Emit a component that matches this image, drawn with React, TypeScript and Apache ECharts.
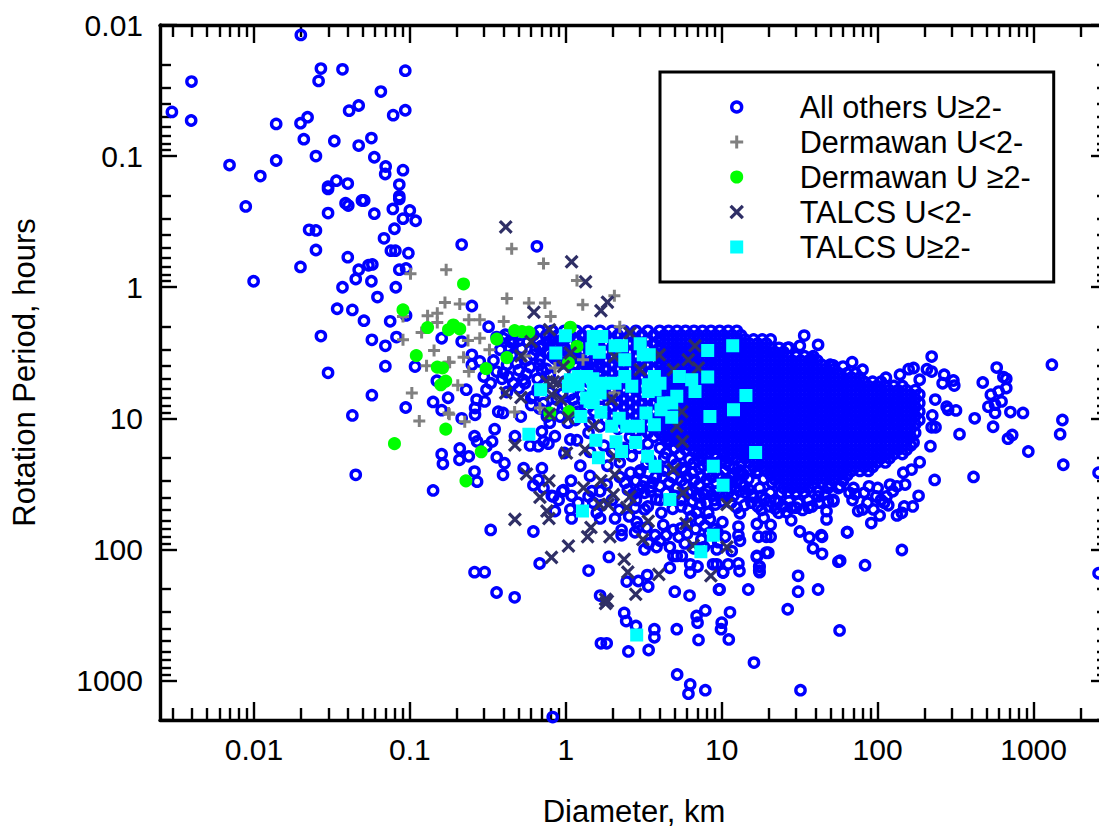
import React, { useEffect, useRef } from "react";
import * as echarts from "echarts";

const xMajor = [0.01, 0.1, 1, 10, 100, 1000];
const xMinor = [0.003,0.004,0.005,0.006,0.007,0.008,0.009,0.02,0.03,0.04,0.05,0.06,0.07,0.08,0.09,0.2,0.3,0.4,0.5,0.6,0.7,0.8,0.9,2,3,4,5,6,7,8,9,20,30,40,50,60,70,80,90,200,300,400,500,600,700,800,900,2000,3000];
const yMajor = [0.01, 0.1, 1, 10, 100, 1000];
const yMinor = [0.02,0.03,0.04,0.05,0.06,0.07,0.08,0.09,0.2,0.3,0.4,0.5,0.6,0.7,0.8,0.9,2,3,4,5,6,7,8,9,20,30,40,50,60,70,80,90,200,300,400,500,600,700,800,900,2000];

const legendNames = ["All others U≥2-", "Dermawan U<2-", "Dermawan U ≥2-", "TALCS U<2-", "TALCS U≥2-"];

// scattered "All others" points, [diameter km, period h]
const othersScattered: number[][] = [
[.02,.0119],[.0269,.0215],[.037,.0218],[.0935,.0223],[.00398,.027],[.026,.0267],[.0652,.0322],[.047,.0411],[.0408,.045],[.0935,.0447],[.0782,.0487],[.00298,.046],[.0221,.0505],[.0199,.0561],[.0139,.0568],[.00396,.0535],[.0328,.0767],[.0567,.0729],[.047,.0831],[.0209,.0743],[.025,.1],[.0592,.102],[.07,.12],[.0695,.137],[.0904,.128],[.00698,.117],[.0139,.108],[.011,.142],[.00887,.242],[.0338,.154],[.04,.162],[.0299,.171],[.0299,.178],[.0856,.165],[.0856,.202],[.0856,.212],[.0387,.229],[.0403,.238],[.0493,.218],[.051,.218],[.0299,.272],[.0592,.275],[.0778,.253],[.1,.26],[.0904,.3],[.109,.311],[.0797,.358],[.0683,.424],[.0226,.365],[.025,.369],[.025,.52],[.04,.59],[.0756,.526],[.0808,.526],[.0979,.55],[.0199,.7],[.047,.735],[.0543,.68],[.0575,.67],[.0856,.735],[.0946,.72],[.00996,.9],[.045,.866],[.0567,.9],[.037,1],[.0813,1],[.062,1.19],
[.0342,1.46],[.0428,1.49],[.0508,1.8],[.0748,1.82],[.0946,1.64],[.0269,2.36],[.0571,2.52],[.0821,2.4],[.0697,2.8],[.0697,4],[.108,4.03],[.0299,4.5],[.0571,6.66],[.0428,9.5],[.0941,8.27],[.141,7.5],[.16,8.66],[.16,2.45],[.149,5.17],[.176,6.97],[.16,18.8],[.163,22.2],[.045,27],[.141,35.5],
[.215,.473],[.653,.488],[.25,1.39],[.32,2],[.215,2.6],[.25,3.28],[.344,3.62],[.461,2.67],[.398,2.45],[.502,2.31],[.62,2.31],[.438,2.92],[.62,3.28],[.482,3.8],[.59,4.07],[.703,4.26],[.428,4.8],[.461,5.4],[.547,5.4],[.62,6.8],[.281,3.68],[.25,3.9],[.298,4.8],[.33,5.4],[.31,6.05],[.23,6.05],[.268,7.2],[.302,7.43],[.262,8.35],[.262,9.4],[.215,10],[.369,8.9],[.396,9.1],[.515,9.7],[.35,12.1],[.26,13.7],[.27,15],[.337,15],[.31,16.3],[.472,13.7],[.703,12.6],[.72,15],[.852,13.7],[.774,15.6],[.59,16.1],[.667,16.3],[1.07,14.5],[1.18,14.7],[.98,18.4],[1.4,12.9],[.209,17],[.208,20.7],[.239,19.5],[.361,19.8],[.405,22],[.396,27],[.26,25.5],[.27,30.4],[.537,24],[.703,24],[.667,29.5],[.62,32.4],[.72,34],[1.08,29.9],[.813,39],[.966,35.3],[1.09,39],[1.4,39.4],[1.47,36],[1.07,49.5],[.852,51],
[.83,39.4],[.95,36],[.9,42],[1.09,58],[1.66,58],[1.58,52.6],[2.07,58],[2.55,56],[2.85,62],[2.28,71],[2.28,78],[2.78,74],[4.22,65],[3.74,78],[4.02,86],[3.82,96],[4.9,71],[5.47,69],[4.65,96],[4.9,112],[5.55,112],[6.28,130],[7,135],[4.65,138],[6.28,150],[8.8,130],[10.2,150],[12.8,128],[13,146],[17.4,135],[17.4,145],[16.8,114],[19.9,106],[1.89,114],[1.4,145],[2.46,176],[2.92,174],[3.33,157],[3.38,192],[1.66,225],[5,210],[6.22,225],[9.6,202],[14.8,202],[30.9,159],[30.9,210],[41.5,202],[26.5,286],[7.85,292],[6.9,322],[7,362],[11.3,302],[10,362],[9.9,406],[11.1,486],[7.1,490],[5.15,406],[3.7,406],[3.7,468],[2.37,305],[2.44,352],[2.82,384],[1.68,520],[1.83,520],[2.52,600],[3.4,585],[.33,71],[.62,73],[.68,128],[.26,149],[.302,149],[.36,213],[.47,232],[16.1,730],[32,1185],[5.18,900],[6.28,1070],[6.12,1260],[7.85,1185],[.825,1900],[57,415],[56,124],
[5.15,112],[6,64],[6.9,52.6],[6.12,49.5],[8.2,52.6],[9.1,45.5],[10.1,62],[8.4,59],[7.4,84],[10.5,80],[9.3,100],[11.6,103],[12.8,67],[12.8,78],[13.1,86],[13.1,53],[16.8,64],[18.6,57.5],[20.6,65],[17.2,80],[19.3,80],[20.6,80],[23.2,52.6],[27.9,60],[31.7,73],[36.5,81],[43.5,78],[38.5,98],[44,108],[57.5,122],[63.6,74],[47,51],[47,59],[52,42],[36,48],[41.5,39.4],[28,48],[23,43.7],[15.6,38.2],[57.5,33],[19.3,106],[16.8,112],[17.5,135],[17.5,149],[10.2,149],[11,130],[9.3,130],[9.7,202],[2.78,48],[3.2,49.5],[3.8,41.5],[4.1,52.6],
[33.8,2.34],[31.7,2.8],[27,2.89],[41.5,2.75],[37.5,3.52],[68.6,3.73],[80,4.26],[52,3.95],[60,4.03],[222,3.38],[113,4.9],[139,4.65],[158,4.22],[170,4.13],[207,4.22],[222,4.4],[267,4.65],[306,5.15],[310,5.63],[186,5.08],[472,5.33],[580,4.1],[640,4.85],[668,5],[668,5.87],[597,6.25],[532,6.6],[623,7.43],[566,7.87],[513,8.15],[566,9.1],[710,8.96],[855,9.1],[1310,3.9],[1530,10.3],[1480,13.2],[1550,22.6],[925,17.9],[730,13.4],[685,14.3],[550,11.6],[419,10],[335,13.2],[283,8.6],[318,8.7],[277,8.15],[261,5.4],[234,7.2],[224,9.5],[222,11.7],[235,11.7],[218,16.3],[170,15.3],[186,21.6],[232,29.5],[165,24.6],[146,26],[412,28],[183,39],[168,47],[148,47],[143,52.6],[133,55],[117,46],[103,55],[91,63],[94,49.5],[80,49.5],[75,51],[133,33],[114,39.4],[98,39.4],[82,37],[69,42],[52,43],[56,34],[64,74],[143,101],[83,132],[44,80],[2610,26],[2610,152],
[2.95,26],[3.36,26],[3.78,28],[2.82,30],[3.2,30],[3.6,31],[4.02,33],[2.95,35],[3.5,36],[4.28,25],[4.85,28],[5.15,34],[5.8,32],[6.4,36],[7.2,32],[8.1,36],[9.2,31],[7.2,40],[5.8,25],[6.5,26],[7.2,24],[8.2,26],[9.2,23],[10.4,25],[11.7,28],[13.2,25],[14.8,29],[16.6,26],[18.6,29],[21,31],[17.5,34],[15,35],[12.2,34],[10.5,32],[20.5,37],[24,37],[27,43],[31,44],[20.5,43],[36,42],[46,38],
[1.76,16.2],[1.98,18],[2.36,16.8],[2.65,19.4],[2.95,16.8],[3.36,15.6],[4.02,16.8],[4.5,14.5],[2.22,21.7],[1.85,23],[3.5,20.8],[4.28,20],[1.43,18],[1.24,23],[1.43,27.5],[1.83,32],[2.22,28],[2.5,35],[1.98,42],[1.66,36],[2.82,42],[4.02,42],[3.36,47],[4.85,49],[5.47,42],
[1.03,10.8],[.79,10.8],[.875,7.2],[.398,4.5],[.533,5.1],[.6,7],[.72,7.65],[.757,9.7],[.92,9.7],[1.15,10.3],[1.43,10.8],[1.66,11.5],[1.12,7.2],[1.12,4.5],[.79,4.65],
[.36,2.4],[.41,2.3],[.44,2.6],[.5,2.55],[.55,2.25],[.57,2.6],[.52,2.95],[.66,2.5],[.7,2.8],[.64,3],[.76,2.6],[.83,2.75],[.88,2.9],[.93,2.55],[1.02,3.1],[1.12,3.3],[.78,3.2],[.85,3.5],[.95,3.8],[1.22,3.5],[1.33,3.9],[1.45,3.7],[1.6,4.1],[.68,3.55],[.56,3.6],[.45,3.3],[.38,3],[.42,3.9],[.5,4.3],[.36,4.4],[.39,5],[.5,5.9],[.42,6.3],[.56,4.6],[.66,5],[.72,5.6],[.66,6],[.79,6.3],[.6,7.9],[.68,8.4],[.84,8.2],[.95,6.5],[1,8],[1.2,8.9],[1.1,9],
[4.6,15],[5,17],[4.4,18.5],[4.8,20.5],[5.4,19],[5.1,22.5],[5.6,24],[6.2,20.5],[6.6,22],[7.1,21],[7.6,23],[8.1,21.5],[8.6,23.5],[9.2,20],[9.9,21],[10.6,22],[11.2,23],[12,24],[12.8,26],[13.8,27],[6,28],[6.7,29.5],[7.4,28],[8,29.5],[8.7,28],[9.5,27],[10,28.5],[10.9,29.5],[11.5,31],[12.4,30],[13.4,31],[14,33],[5.5,30],[4.6,31],[4.2,28],[3.9,24],[3.3,22],[3,25],[2.6,26],[2.4,31],[3.1,33],[3.5,33.5],[3.2,37],[2.7,38],[4.4,37],[5,39],[6.1,37],[6.9,39],[7.7,38],[8.6,38.5],[9.4,36],[10.1,38],[11,37],[11.9,39],[13,36],[14.2,37],[16,40],[18,39],[19,41],[22,42],
[6.5,43],[7.3,45],[8,44],[9,42],[10,43],[11.5,44],[12.5,48],[14,46],[15.5,44],[17,47],[18,50],[20,47],[22,49],[25,47],[26,52],[30,48],[33,50],[38,47],[42,44],[48,43],[5.5,47],[6.4,56],[7.2,60],[7.8,66],[9.1,70],[9.4,74],[8.3,75],[6.8,70],[6,76],[5.3,80],[5.8,90],[6.6,98],[7.7,96],[8.5,88],[9.5,88],[4.4,78],[3.4,90],[3.2,100],[2.9,68],[3.3,68],[2.2,50],[1.7,46],[1.5,44],[1.2,44],
[60,30],[70,34],[88,33],[100,34],[120,32],[110,44],[125,36],[150,32],[72,38],[86,44],[105,42],[66,37],[48,34],[42,36],
];

// saturated part of "All others": each row is a diameter and the periods read at it
const othersColumns: [number, number[]][] = [
[.68,[2.15,2.9,3.9]],[.75,[2.32,3.12,4.2]],[.82,[2.15,2.5,3.36]],[.89,[2.32,2.69,3.62]],[.98,[2.15,2.5,2.9,5.26]],[1.07,[2.32,2.69,3.12,3.62,6.58]],[1.17,[2.15,2.5,2.9,3.36,3.9,5.26,8.2]],[1.27,[2.32,2.69,3.12,3.62,4.2,6.58]],[1.39,[2.15,2.5,2.9,3.36,3.9,4.53,5.26,8.2]],[1.52,[2.32,2.69,3.12,3.62,4.2,4.88,6.58,8.87]],[1.66,[2.15,2.5,2.9,3.36,3.9,4.53,5.26,6.1,7.1,8.2]],[1.81,[2.32,2.69,3.12,3.62,4.2,4.88,5.67,6.58,8.87,10.3]],[1.98,[2.15,2.5,2.9,3.36,3.9,4.53,5.26,6.1,7.1,8.2,9.6]],[2.16,[2.32,2.69,3.12,3.62,4.2,4.88,5.67,6.58,7.64,8.87,10.3,12]],[2.36,[2.15,2.5,2.9,3.36,3.9,4.53,5.26,6.1,7.1,8.2,9.6,11.1]],[2.58,[2.32,2.69,3.12,3.62,4.2,4.88,5.67,6.58,7.64,8.87,10.3,12,13.9]],[2.82,[2.15,2.5,2.9,3.36,3.9,4.53,5.26,6.1,7.1,8.2,9.6,11.1,12.9]],[3.08,[2.32,2.69,3.12,3.62,4.2,4.88,5.67,6.58,7.64,8.87,10.3,12,13.9]],[3.36,[2.15,2.5,2.9,3.36,3.9,4.53,5.26,6.1,7.1,8.2,9.6,11.1,12.9]],[3.67,[2.32,2.69,3.12,3.62,4.2,4.88,5.67,6.58,7.64,8.87,10.3,12,13.9]],
[4.0,[2.15,2.5,2.9,3.36,3.9,4.53,5.26,6.1,7.1,8.2,9.6,11.1,12.9]],
[4.28,[2.32,2.69,3.12,3.62,4.2,4.88,5.67,6.58,7.64,8.87,10.3,12,13.9]],
[4.56,[2.15,2.5,2.9,3.36,3.9,4.53,5.26,6.1,7.1,8.2,9.6,11.1,12.9,15]],
[4.85,[2.32,2.69,3.12,3.62,4.2,4.88,5.67,6.58,7.64,8.87,10.3,12,13.9]],
[5.17,[2.15,2.5,2.9,3.36,3.9,4.53,5.26,6.1,7.1,8.2,9.6,11.1,12.9,15]],
[5.5,[2.32,2.69,3.12,3.62,4.2,4.88,5.67,6.58,7.64,8.87,10.3,12,13.9,16.1]],
[5.86,[2.15,2.5,2.9,3.36,3.9,4.53,5.26,6.1,7.1,8.2,9.6,11.1,12.9,15,17.4]],
[6.24,[2.32,2.69,3.12,3.62,4.2,4.88,5.67,6.58,7.64,8.87,10.3,12,13.9,16.1]],
[6.64,[2.15,2.5,2.9,3.36,3.9,4.53,5.26,6.1,7.1,8.2,9.6,11.1,12.9,15,17.4]],
[7.07,[2.32,2.69,3.12,3.62,4.2,4.88,5.67,6.58,7.64,8.87,10.3,12,13.9,16.1,18.7]],
[7.53,[2.15,2.5,2.9,3.36,3.9,4.53,5.26,6.1,7.1,8.2,9.6,11.1,12.9,15,17.4,20.2]],
[8.0,[2.32,2.69,3.12,3.62,4.2,4.88,5.67,6.58,7.64,8.87,10.3,12,13.9,16.1,18.7]],
[8.53,[2.15,2.5,2.9,3.36,3.9,4.53,5.26,6.1,7.1,8.2,9.6,11.1,12.9,15,17.4]],
[9.1,[2.32,2.69,3.12,3.62,4.2,4.88,5.67,6.58,7.64,8.87,10.3,12,13.9,16.1,18.7]],
[9.7,[2.15,2.5,2.9,3.36,3.9,4.53,5.26,6.1,7.1,8.2,9.6,11.1,12.9,15,17.4]],
[10.3,[2.32,2.69,3.12,3.62,4.2,4.88,5.67,6.58,7.64,8.87,10.3,12,13.9,16.1,18.7]],
[11,[2.15,2.5,2.9,3.36,3.9,4.53,5.26,6.1,7.1,8.2,9.6,11.1,12.9,15,17.4,20.2]],
[11.7,[2.32,2.69,3.12,3.62,4.2,4.88,5.67,6.58,7.64,8.87,10.3,12,13.9,16.1,18.7]],
[12.5,[2.15,2.5,2.9,3.36,3.9,4.53,5.26,6.1,7.1,8.2,9.6,11.1,12.9,15,17.4,20.2]],
[13.3,[2.32,2.69,3.12,3.62,4.2,4.88,5.67,6.58,7.64,8.87,10.3,12,13.9,16.1,18.7,21.7]],
[14.1,[2.5,2.9,3.36,3.9,4.53,5.26,6.1,7.1,8.2,9.6,11.1,12.9,15,17.4,20.2]],
[15,[2.69,3.12,3.62,4.2,4.88,5.67,6.58,7.64,8.87,10.3,12,13.9,16.1,18.7,21.7]],
[16,[2.5,2.9,3.36,3.9,4.53,5.26,6.1,7.1,8.2,9.6,11.1,12.9,15,17.4,20.2,23.5]],
[17,[2.69,3.12,3.62,4.2,4.88,5.67,6.58,7.64,8.87,10.3,12,13.9,16.1,18.7,21.7,25.2]],
[18.2,[2.5,2.9,3.36,3.9,4.53,5.26,6.1,7.1,8.2,9.6,11.1,12.9,15,17.4,20.2,23.5]],
[19.3,[2.69,3.12,3.62,4.2,4.88,5.67,6.58,7.64,8.87,10.3,12,13.9,16.1,18.7,21.7,25.2]],
[20.6,[2.5,2.9,3.36,3.9,4.53,5.26,6.1,7.1,8.2,9.6,11.1,12.9,15,17.4,20.2,23.5,27.2]],
[21.9,[3.12,3.62,4.2,4.88,5.67,6.58,7.64,8.87,10.3,12,13.9,16.1,18.7,21.7,25.2,29.3]],
[23.3,[2.9,3.36,3.9,4.53,5.26,6.1,7.1,8.2,9.6,11.1,12.9,15,17.4,20.2,23.5,27.2,31.6]],
[24.9,[3.12,3.62,4.2,4.88,5.67,6.58,7.64,8.87,10.3,12,13.9,16.1,18.7,21.7,25.2,29.3,34]],
[26.5,[2.9,3.36,3.9,4.53,5.26,6.1,7.1,8.2,9.6,11.1,12.9,15,17.4,20.2,23.5,27.2,31.6,36.7]],
[28.2,[3.62,4.2,4.88,5.67,6.58,7.64,8.87,10.3,12,13.9,16.1,18.7,21.7,25.2,29.3,34]],
[30,[3.36,3.9,4.53,5.26,6.1,7.1,8.2,9.6,11.1,12.9,15,17.4,20.2,23.5,27.2,31.6,36.7]],
[32,[3.62,4.2,4.88,5.67,6.58,7.64,8.87,10.3,12,13.9,16.1,18.7,21.7,25.2,29.3,34]],
[34,[3.36,3.9,4.53,5.26,6.1,7.1,8.2,9.6,11.1,12.9,15,17.4,20.2,23.5,27.2,31.6,36.7]],
[36.2,[3.62,4.2,4.88,5.67,6.58,7.64,8.87,10.3,12,13.9,16.1,18.7,21.7,25.2,29.3,34]],
[38.6,[3.36,3.9,4.53,5.26,6.1,7.1,8.2,9.6,11.1,12.9,15,17.4,20.2,23.5,27.2,31.6]],
[41,[3.62,4.2,4.88,5.67,6.58,7.64,8.87,10.3,12,13.9,16.1,18.7,21.7,25.2,29.3]],
[43.7,[3.9,4.53,5.26,6.1,7.1,8.2,9.6,11.1,12.9,15,17.4,20.2,23.5,27.2,31.6]],
[46.5,[4.2,4.88,5.67,6.58,7.64,8.87,10.3,12,13.9,16.1,18.7,21.7,25.2,29.3]],
[49.6,[3.9,4.53,5.26,6.1,7.1,8.2,9.6,11.1,12.9,15,17.4,20.2,23.5,27.2,31.6]],
[52.8,[4.2,4.88,5.67,6.58,7.64,8.87,10.3,12,13.9,16.1,18.7,21.7,25.2,29.3]],
[56.2,[4.53,5.26,6.1,7.1,8.2,9.6,11.1,12.9,15,17.4,20.2,23.5,27.2]],
[59.8,[4.88,5.67,6.58,7.64,8.87,10.3,12,13.9,16.1,18.7,21.7,25.2,29.3]],
[63.7,[4.53,5.26,6.1,7.1,8.2,9.6,11.1,12.9,15,17.4,20.2,23.5,27.2]],
[67.8,[4.88,5.67,6.58,7.64,8.87,10.3,12,13.9,16.1,18.7,21.7,25.2]],
[72.2,[4.53,5.26,6.1,7.1,8.2,9.6,11.1,12.9,15,17.4,20.2,23.5]],
[76.9,[4.88,5.67,6.58,7.64,8.87,10.3,12,13.9,16.1,18.7,21.7,25.2]],
[81.9,[5.26,6.1,7.1,8.2,9.6,11.1,12.9,15,17.4,20.2,23.5]],
[87.2,[5.67,6.58,7.64,8.87,10.3,12,13.9,16.1,18.7,21.7,25.2]],
[92.8,[5.26,6.1,7.1,8.2,9.6,11.1,12.9,15,17.4,20.2,23.5]],
[98.8,[5.67,6.58,7.64,8.87,10.3,12,13.9,16.1,18.7,21.7]],
[105,[5.26,6.1,7.1,8.2,9.6,11.1,12.9,15,17.4,20.2]],
[112,[5.67,6.58,7.64,8.87,10.3,12,13.9,16.1,18.7,21.7]],
[119,[6.1,7.1,8.2,9.6,11.1,12.9,15,17.4,20.2]],
[127,[5.67,6.58,7.64,8.87,10.3,12,13.9,16.1,18.7]],
[135,[6.1,7.1,8.2,9.6,11.1,12.9,15,17.4]],
[144,[5.67,6.58,7.64,8.87,10.3,12,13.9,16.1,18.7]],
[153,[6.1,7.1,8.2,9.6,11.1,12.9,15,17.4]],
[163,[6.58,7.64,8.87,10.3,12,13.9,16.1]],
[174,[6.1,7.1,8.2,9.6,11.1,12.9]],
[185,[6.58,7.64,8.87,10.3]],
];

const dermawanLow: number[][] = [
[.0904,2.52],[.168,1.31],[.13,1.65],[.15,1.58],[.15,1.86],[.119,2.22],[.143,3.04],[.128,3.97],[.177,3.73],[.103,6.4],[.115,10.5],[.0904,1.67],[.177,9.1],
[.45,.51],[.72,.66],[1.18,.89],[2.05,1.16],[.101,.79],[.171,.735],[.209,1.34],[.419,1.22],[.58,1.32],[.735,1.32],[1.285,1.36],[.8,1.67],[.4,1.83],[.239,1.77],[.281,1.77],[2.22,2],[.236,2.55],[.281,2.45],[.324,3],[.18,3.73],[.221,3.42],[.239,4.4],[.203,5.6],[.179,9.3],[.225,10.6],[.47,8.96],[.683,8.35],[.852,4.14],[.547,3.34],[1.29,3.58],[2.05,6.4],
];

const dermawanHigh: number[][] = [
[.0904,1.49],[.13,2.03],[.177,2.11],[.11,3.32],[.15,4.07],[.162,4.13],[.158,5.55],[.17,5.2],[.17,12.1],[.0797,15.6],[.221,.945],[.19,1.94],[.209,2.08],[.361,2.49],[.47,2.14],[.524,2.18],[.58,2.2],[1.07,2.02],[1.18,2.83],[.419,3.44],[.308,4.17],[.79,9.1],[1.05,8.9],[.287,18],[.229,30],[1.04,3.78],
];

const talcsLow: number[][] = [
[.412,.347],[1.09,.64],[1.34,.91],[1.85,1.3],[1.68,1.51],[.625,1.55],[.786,2.11],[.6,2.6],[.516,3.34],[2.58,2.24],[2.05,3.38],[1.07,3.18],[.966,4.03],[.832,5.26],[.757,5.26],[.892,5.36],[.412,6.4],[.516,6.95],[.813,6.6],[.93,7.2],[1.97,7.2],[3,4.26],[3.98,3.28],[6.74,2.8],[6.1,3.58],[7.08,4.13],[4.9,4.26],[.786,9.3],[1.04,9.95],[1.51,11.4],[5.15,11.5],[5.55,8.9],[5.6,15],[.472,16],[1.01,18.4],[1.33,17.3],[2.06,19.5],[4.9,24.6],[2.06,26.9],[1.68,29.9],[.56,26.6],[.78,29.9],[1.3,33.9],[.683,40],[2.02,38.2],[2.58,39.4],[5.66,37],[1.65,45.5],[1.87,45.5],[2.46,48],[.757,51],[10.8,45.5],[.472,59],[.78,58],[3.38,60.9],[5.89,63.5],[1.45,68],[1.38,80],[1.92,80],[3.12,84],[1.04,94],[.81,115],[2.37,119],[6.57,93],[10.8,96],[2.5,149],[3.95,155],[8.52,159],[2.81,220],[1.8,240],[1.8,258],[1.85,248],
];

const talcsHigh: number[][] = [
[.994,2.35],[.863,3.18],[1.5,2.38],[1.7,2.38],[1.47,2.95],[1.64,3.13],[2.07,2.79],[2.28,2.79],[3,2.7],[2.39,3.58],[3.14,3.28],[3.43,3.28],[8.13,3.04],[11.76,2.79],[8.13,4.85],[14.3,6.7],[11.9,8.6],[8.4,9.7],[16.5,18.2],[8.83,23.2],[10.2,32.4],[4.65,41.7],[1.28,51],[.58,13.2],
[.69,6.05],[1.07,5.08],[1.04,5.7],[1.2,4.8],[1.2,5.55],[1.36,4.8],[1.49,5],[1.5,6.05],[1.74,5.4],[1.36,7],[1.5,7.57],[1.66,6.4],[2.07,5.4],[2.39,4.8],[2.65,5.7],[3.38,5.55],[3.7,4.8],[4.02,5.4],[3.38,6.25],[3.74,6.05],[5.35,4.8],[6.42,5.08],[6.74,6.25],[5.15,6.8],[4.22,7.65],[4.78,7.65],[4.08,8.6],[4.78,9.8],[1.68,9],[1.25,9.7],[1.43,7.43],[2.2,10],[1.97,11.5],[2.46,11.5],[2.92,11.5],[3.27,9.1],[3.7,11.2],[1.56,14.7],[2.1,15.1],[2.81,15.3],[2.28,17.9],[1.62,20],[3.35,19.5],[3.74,23.2],[2.85,450],[8.83,78],[7.35,104],
];

const othersValues = othersScattered.concat(
  othersColumns.flatMap(([d, periods]) => periods.map((p) => [d, p]))
);

const plusPath = "path://M0 5H10M5 0V10";
const crossPath = "path://M0 0L10 10M10 0L0 10";
const squarePath = "path://M0 0H10V10H0Z";
const FONT = "Liberation Sans";
const labelText = (v: number) => String(Number(Number(v).toPrecision(2)));

function makeAxis(position: string, major: boolean, values: number[], range: number[], len: number, extra: any = {}) {
  return {
    type: "log",
    logBase: 10,
    position,
    min: range[0],
    max: range[1],
    splitLine: { show: false },
    minorTick: { show: false },
    axisLine: { show: major, onZero: false, lineStyle: { color: "#000", width: 3.4 } },
    axisTick: { show: true, inside: true, length: len, customValues: values, lineStyle: { color: "#000", width: 2.4 } },
    axisLabel: { show: false },
    ...extra,
  };
}

export default function App() {
  const ref = useRef<HTMLDivElement>(null);
  useEffect(() => {
    const chart = echarts.init(ref.current!, undefined, { renderer: "svg" });
    const xRange = [0.0025, 3000];
    const yRange = [0.01, 2000];
    const tickLabel = { show: true, color: "#000", fontFamily: FONT, fontSize: 30, formatter: labelText };
    const nameStyle = { color: "#000", fontFamily: FONT, fontSize: 31, verticalAlign: "middle", lineHeight: 24 };
    const ring = { color: "rgba(0,0,0,0)", borderColor: "#0000ff", borderWidth: 3.4, opacity: 1 };
    const plus = { color: "rgba(0,0,0,0)", borderColor: "#808080", borderWidth: 3, borderCap: "square", opacity: 1 };
    const green = { color: "#00ff00", borderColor: "#00ff00", borderWidth: 3, opacity: 1 };
    const cross = { color: "rgba(0,0,0,0)", borderColor: "#2f2f66", borderWidth: 3.2, borderCap: "square", opacity: 1 };
    const cyan = { color: "#00ffff", borderColor: "#00ffff", borderWidth: 3, opacity: 1 };
    chart.setOption({
      animation: false,
      backgroundColor: "#fff",
      grid: { left: 160, top: 25, width: 948, height: 695, containLabel: false, outerBoundsMode: "none" },
      xAxis: [
        makeAxis("bottom", true, xMajor, xRange, 18, {
          axisLabel: { ...tickLabel, margin: 14, customValues: xMajor },
          name: "Diameter, km", nameLocation: "middle", nameGap: 91, nameTextStyle: nameStyle,
        }),
        makeAxis("bottom", false, xMinor, xRange, 12),
        makeAxis("top", true, xMajor, xRange, 18),
        makeAxis("top", false, xMinor, xRange, 12),
      ],
      yAxis: [
        makeAxis("left", true, yMajor, yRange, 17, {
          inverse: true,
          axisLabel: { ...tickLabel, margin: 17, customValues: yMajor },
          name: "Rotation Period, hours", nameLocation: "middle", nameGap: 136, nameRotate: 90, nameTextStyle: nameStyle,
        }),
        makeAxis("left", false, yMinor, yRange, 11, { inverse: true }),
        makeAxis("right", true, yMajor, yRange, 17, { inverse: true }),
        makeAxis("right", false, yMinor, yRange, 11, { inverse: true }),
      ],
      legend: {
        left: 660, top: 72, orient: "vertical",
        padding: [17.5, 23, 17.5, 70], itemGap: 0, itemWidth: 10, itemHeight: 10,
        backgroundColor: "#fff", borderColor: "#000", borderWidth: 3,
        textStyle: { color: "#000", fontFamily: FONT, fontSize: 30.6, lineHeight: 32, padding: [0, 0, 3, 53] },
        data: [
          { name: legendNames[0], icon: "circle", itemStyle: ring },
          { name: legendNames[1], icon: plusPath, itemStyle: plus },
          { name: legendNames[2], icon: "circle", itemStyle: green },
          { name: legendNames[3], icon: crossPath, itemStyle: cross },
          { name: legendNames[4], icon: squarePath, itemStyle: cyan },
        ],
        selectedMode: false,
      },
      series: [
        { name: legendNames[0], type: "scatter", data: othersValues, symbol: "circle", symbolSize: 9.3, itemStyle: ring, z: 2 },
        { name: legendNames[1], type: "scatter", data: dermawanLow, symbol: plusPath, symbolSize: 9, itemStyle: plus, z: 3 },
        { name: legendNames[2], type: "scatter", data: dermawanHigh, symbol: "circle", symbolSize: 10, itemStyle: green, z: 4 },
        { name: legendNames[3], type: "scatter", data: talcsLow, symbol: crossPath, symbolSize: 9.5, itemStyle: cross, z: 5 },
        { name: legendNames[4], type: "scatter", data: talcsHigh, symbol: squarePath, symbolSize: 10, itemStyle: cyan, z: 6 },
      ],
    });
    return () => chart.dispose();
  }, []);
  return (
    <div style={{ position: "fixed", left: 0, top: 0, width: 1099, height: 827, overflow: "hidden", background: "#fff" }}>
      <div ref={ref} style={{ width: 1125, height: 827 }} />
    </div>
  );
}
